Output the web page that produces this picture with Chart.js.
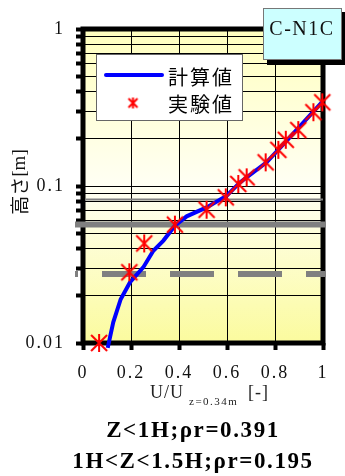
<!DOCTYPE html>
<html>
<head>
<meta charset="utf-8">
<script src="https://cdn.jsdelivr.net/npm/chart.js@4.4.1/dist/chart.umd.min.js"></script>
<style>
  body { margin: 0; background: #fff; }
  canvas { display: block; }
</style>
</head>
<body>
<canvas id="grafico" width="345" height="476"></canvas>
<script>
// 計算値 (linha azul)
const calcU = [0.103, 0.126, 0.157, 0.196, 0.251, 0.293, 0.335, 0.383, 0.432, 0.515, 0.599, 0.654, 0.765, 0.849, 0.995];
const calcZ = [0.0093, 0.01355, 0.019, 0.0244, 0.0303, 0.0387, 0.0449, 0.0558, 0.0641, 0.0731, 0.0868, 0.1054, 0.1415, 0.1945, 0.341];

// 実験値 (estrelas vermelhas)
const expU = [0.067, 0.193, 0.255, 0.383, 0.515, 0.595, 0.647, 0.682, 0.761, 0.814, 0.845, 0.897, 0.96, 0.997];
const expZ = [0.01, 0.0282, 0.0431, 0.0567, 0.0706, 0.0847, 0.103, 0.1135, 0.1415, 0.170, 0.197, 0.227, 0.295, 0.341];

const yTicks = [0.01, 0.02, 0.03, 0.04, 0.05, 0.06, 0.07, 0.08, 0.09,
                0.1, 0.2, 0.3, 0.4, 0.5, 0.6, 0.7, 0.8, 0.9, 1];
const yLabels = { 0.01: '0.01', 0.1: '0.1', 1: '1' };
const xTicks = [0, 0.2, 0.4, 0.6, 0.8, 1];

// linhas de referência (altura)
const refSolida = 0.0569;
const refTracejada = 0.0275;
const refFina = 0.082;

const nomeCaso = 'C-N1C';
const textoRho = ['Z<1H;ρr=0.391', '1H<Z<1.5H;ρr=0.195'];

const serif = '"Liberation Serif", "Times New Roman", serif';

function estrela(tam, larg) {
  const c = document.createElement('canvas');
  c.width = tam + 2; c.height = tam + 2;
  const g = c.getContext('2d');
  g.strokeStyle = '#ff0000';
  g.lineWidth = larg;
  const m = 1, f = tam + 1, h = (tam + 2) / 2;
  g.beginPath();
  g.moveTo(h, m); g.lineTo(h, f);
  g.moveTo(m + 1, m + 1); g.lineTo(f - 1, f - 1);
  g.moveTo(f - 1, m + 1); g.lineTo(m + 1, f - 1);
  g.stroke();
  return c;
}

const marcador = estrela(18, 2);
const marcadorLegenda = estrela(11, 2);

const extras = {
  id: 'extras',
  beforeDraw(chart) {
    const { ctx, chartArea: a } = chart;
    ctx.letterSpacing = '2px';
    const g = ctx.createLinearGradient(0, a.top, 0, a.bottom);
    g.addColorStop(0, '#ffffbe');
    g.addColorStop(0.5, '#fffff4');
    g.addColorStop(1, '#fbfb9e');
    ctx.save();
    ctx.fillStyle = g;
    ctx.fillRect(a.left, a.top, a.width, a.height);
    ctx.restore();
  },
  beforeDatasetsDraw(chart) {
    const { ctx, chartArea: a } = chart;
    const y = chart.scales.y;
    ctx.save();
    ctx.strokeStyle = '#000';
    ctx.lineWidth = 5;
    ctx.strokeRect(a.left, a.top, a.width, a.height);

    ctx.strokeStyle = '#808080';
    ctx.lineWidth = 2;
    let py = y.getPixelForValue(refFina);
    ctx.beginPath(); ctx.moveTo(a.left + 2, py); ctx.lineTo(a.right, py); ctx.stroke();

    ctx.lineWidth = 6;
    py = y.getPixelForValue(refSolida);
    ctx.beginPath(); ctx.moveTo(a.left - 8, py); ctx.lineTo(a.right + 2, py); ctx.stroke();

    py = y.getPixelForValue(refTracejada);
    ctx.setLineDash([44, 24]);
    ctx.lineDashOffset = 41;
    ctx.beginPath(); ctx.moveTo(a.left - 8, py); ctx.lineTo(a.right + 2, py); ctx.stroke();
    ctx.restore();
  },
  afterDraw(chart) {
    const { ctx } = chart;
    const ds = chart.data.datasets;
    ctx.save();
    ctx.textBaseline = 'middle';

    // legenda
    ctx.letterSpacing = '0px';
    ctx.fillStyle = '#fff';
    ctx.fillRect(96, 54, 146, 66);
    ctx.strokeStyle = '#666';
    ctx.lineWidth = 1;
    ctx.strokeRect(96.5, 54.5, 146, 66);
    ctx.strokeStyle = '#0000ff';
    ctx.lineWidth = 4;
    ctx.lineCap = 'round';
    ctx.beginPath(); ctx.moveTo(106, 75); ctx.lineTo(162, 75); ctx.stroke();
    ctx.drawImage(marcadorLegenda, 133 - 6.5, 103 - 6.5);
    ctx.fillStyle = '#000';
    ctx.font = '20px "Noto Sans CJK JP"';
    ctx.letterSpacing = '2px';
    ctx.textAlign = 'left';
    ctx.fillText(ds[0].label, 168, 77);
    ctx.fillText(ds[1].label, 168, 104);

    // caixa do caso
    ctx.letterSpacing = '0px';
    ctx.fillStyle = '#000';
    ctx.fillRect(267, 12, 80, 53);
    ctx.fillStyle = '#ccffff';
    ctx.fillRect(263, 8, 79, 52);
    ctx.strokeStyle = '#777';
    ctx.lineWidth = 1;
    ctx.strokeRect(263.5, 8.5, 78, 51);
    ctx.fillStyle = '#111';
    ctx.font = '20px ' + serif;
    ctx.letterSpacing = '1.5px';
    ctx.textAlign = 'center';
    ctx.fillText(nomeCaso, 302, 30);

    // título eixo y
    ctx.save();
    ctx.translate(20, 182);
    ctx.rotate(-Math.PI / 2);
    ctx.letterSpacing = '0px';
    ctx.font = '19px "Noto Sans CJK JP"';
    const p1 = '高さ';
    const w1 = ctx.measureText(p1).width;
    ctx.font = '19px ' + serif;
    const p2 = '[m]';
    const w2 = ctx.measureText(p2).width;
    const x0 = -(w1 + w2) / 2;
    ctx.textAlign = 'left';
    ctx.fillStyle = '#111';
    ctx.font = '19px "Noto Sans CJK JP"';
    ctx.fillText(p1, x0, 0);
    ctx.font = '19px ' + serif;
    ctx.fillText(p2, x0 + w1, 0);
    ctx.restore();

    // título eixo x
    ctx.textAlign = 'left';
    ctx.textBaseline = 'alphabetic';
    ctx.fillStyle = '#222';
    ctx.letterSpacing = '1px';
    ctx.font = '18px ' + serif;
    ctx.fillText('U/U', 150, 398);
    ctx.font = '11px ' + serif;
    ctx.letterSpacing = '1.5px';
    ctx.fillText('z=0.34m', 189, 405);
    ctx.font = '18px ' + serif;
    ctx.letterSpacing = '1px';
    ctx.fillText('[-]', 248, 398);

    // texto inferior
    ctx.fillStyle = '#000';
    ctx.textAlign = 'center';
    ctx.font = 'bold 23px ' + serif;
    ctx.letterSpacing = '1.6px';
    ctx.fillText(textoRho[0], 193, 437);
    ctx.fillText(textoRho[1], 193, 468);
    ctx.restore();
  }
};

const ctx = document.getElementById('grafico').getContext('2d');

window.graficoAtual = new Chart(ctx, {
  type: 'scatter',
  data: {
    datasets: [
      {
        label: '計算値',
        type: 'line',
        data: calcU.map((u, i) => ({ x: u, y: calcZ[i] })),
        borderColor: '#0000ff',
        borderWidth: 4,
        pointRadius: 0,
        fill: false,
        tension: 0,
        clip: false,
        order: 1
      },
      {
        label: '実験値',
        data: expU.map((u, i) => ({ x: u, y: expZ[i] })),
        pointStyle: marcador,
        pointRadius: 10,
        clip: false,
        order: 0
      }
    ]
  },
  options: {
    responsive: false,
    animation: false,
    devicePixelRatio: 1,
    layout: { padding: { top: 29, right: 22, left: 0, bottom: 0 } },
    plugins: {
      legend: { display: false },
      tooltip: { enabled: false }
    },
    scales: {
      x: {
        type: 'linear',
        min: 0,
        max: 1,
        afterBuildTicks: s => { s.ticks = xTicks.map(v => ({ value: v })); },
        afterFit: s => { s.height = 133; },
        border: { display: false },
        grid: { color: '#000', lineWidth: 1, tickColor: '#000', tickLength: 7, tickWidth: 4 },
        ticks: {
          color: '#111',
          padding: 12,
          font: { family: serif, size: 18 },
          maxRotation: 0,
          callback: v => String(v)
        }
      },
      y: {
        type: 'logarithmic',
        min: 0.01,
        max: 1,
        afterBuildTicks: s => { s.ticks = yTicks.map(v => ({ value: v })); },
        afterFit: s => { s.width = 83; },
        border: { display: false },
        grid: { color: '#000', lineWidth: 1, tickColor: '#000', tickLength: 7, tickWidth: 4 },
        ticks: {
          color: '#111',
          padding: 11,
          autoSkip: false,
          font: { family: serif, size: 18 },
          callback: v => yLabels[v] || ''
        }
      }
    }
  },
  plugins: [extras]
});
</script>
</body>
</html>
